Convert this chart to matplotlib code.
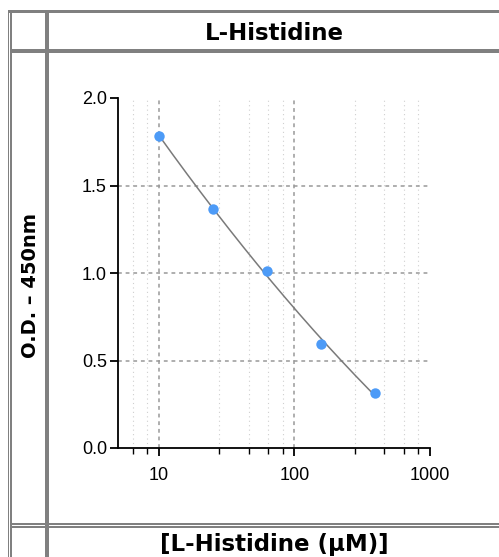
import numpy as np
import matplotlib
matplotlib.use("Agg")
import matplotlib.pyplot as plt
from matplotlib.patches import Rectangle
from matplotlib.ticker import FixedLocator, NullFormatter, FixedFormatter

plt.rcParams["font.family"] = ["Liberation Sans", "DejaVu Sans"]

# ---- data ----
conc = [10, 25, 62.5, 156.25, 390.625]
od = [1.785, 1.366, 1.012, 0.596, 0.312]
title = "L-Histidine"
xlabel = "[L-Histidine (μM)]"
ylabel = "O.D. – 450nm"
xticks_major = [10, 100, 1000]
xticks_minor = [6.4, 8.2, 28, 46, 64, 82, 280, 460, 640, 820]
yticks = [0.0, 0.5, 1.0, 1.5, 2.0]

W, H = 499, 557
fig = plt.figure(figsize=(W / 100, H / 100), dpi=100)

# ---- table-like frame (pixel coords) ----
bg = fig.add_axes([0, 0, 1, 1])
bg.set_xlim(0, W)
bg.set_ylim(H, 0)
bg.axis("off")
gray = "#808080"
def rect(x, y, w, h):
    bg.add_patch(Rectangle((x, y), w, h, color=gray, lw=0))
rect(8, 10, 1, H - 10)        # outer left thin
rect(10, 10, 2, H - 10)       # inner left
rect(8, 10, W - 8, 3)         # top
rect(45, 10, 4, H - 10)       # column divider
rect(12, 49, W - 12, 4)       # row divider under title
rect(12, 523, W - 12, 2)      # double line above x label
rect(12, 526, W - 12, 2)

# ---- plot axes ----
x0, x1 = 118, 430
ytop, ybot = 98, 448
ax = fig.add_axes([x0 / W, 1 - ybot / H, (x1 - x0) / W, (ybot - ytop) / H])
ax.set_xscale("log")
ax.set_xlim(5, 1000)
ax.set_ylim(0, 2.0)
for s in ["top", "right"]:
    ax.spines[s].set_visible(False)
for s in ["left", "bottom"]:
    ax.spines[s].set_linewidth(1.3)
ax.xaxis.set_major_locator(FixedLocator(xticks_major))
ax.xaxis.set_major_formatter(FixedFormatter([str(v) for v in xticks_major]))
ax.xaxis.set_minor_locator(FixedLocator(xticks_minor))
ax.xaxis.set_minor_formatter(NullFormatter())
ax.yaxis.set_major_locator(FixedLocator(yticks))
ax.yaxis.set_major_formatter(FixedFormatter([f"{v:.1f}" for v in yticks]))
ax.tick_params(axis="both", which="major", length=6, width=1.3,
               labelsize=13, pad=2)
ax.tick_params(axis="x", which="major", pad=8)
ax.tick_params(axis="x", which="minor", length=4, width=1.0)

# grid lines
for v in xticks_minor:
    ax.axvline(v, color="#cfcfcf", lw=0.8, ls=(0, (1, 3)), zorder=0)
for v in xticks_major[:-1]:
    ax.axvline(v, color="#999999", lw=1.1, ls=(0, (2.5, 2.5)), zorder=0)
for v in yticks[1:-1]:
    ax.axhline(v, color="#999999", lw=1.1, ls=(0, (2.5, 2.5)), zorder=0)

# fitted curve (quadratic in log-concentration)
lx = np.log10(conc)
coef = np.polyfit(lx, od, 2)
xs = np.linspace(lx[0], lx[-1], 200)
ax.plot(10 ** xs, np.polyval(coef, xs), color="#7a7a7a", lw=1.1, zorder=2)
ax.plot(conc, od, "o", color="#4d9bf7", ms=7.5, mec="none", zorder=3,
        clip_on=False)

# ---- texts ----
fig.text(274 / W, 1 - 40 / H, title, ha="center", va="baseline",
         fontsize=16.5, fontweight="bold", family="DejaVu Sans")
fig.text(274 / W, 1 - 551 / H, xlabel, ha="center", va="baseline",
         fontsize=16.5, fontweight="bold", family="DejaVu Sans")
fig.text(31 / W, 1 - 286 / H, ylabel, ha="center", va="center",
         rotation=90, fontsize=14, fontweight="bold", family="DejaVu Sans")

fig.savefig("out.png", dpi=100)
